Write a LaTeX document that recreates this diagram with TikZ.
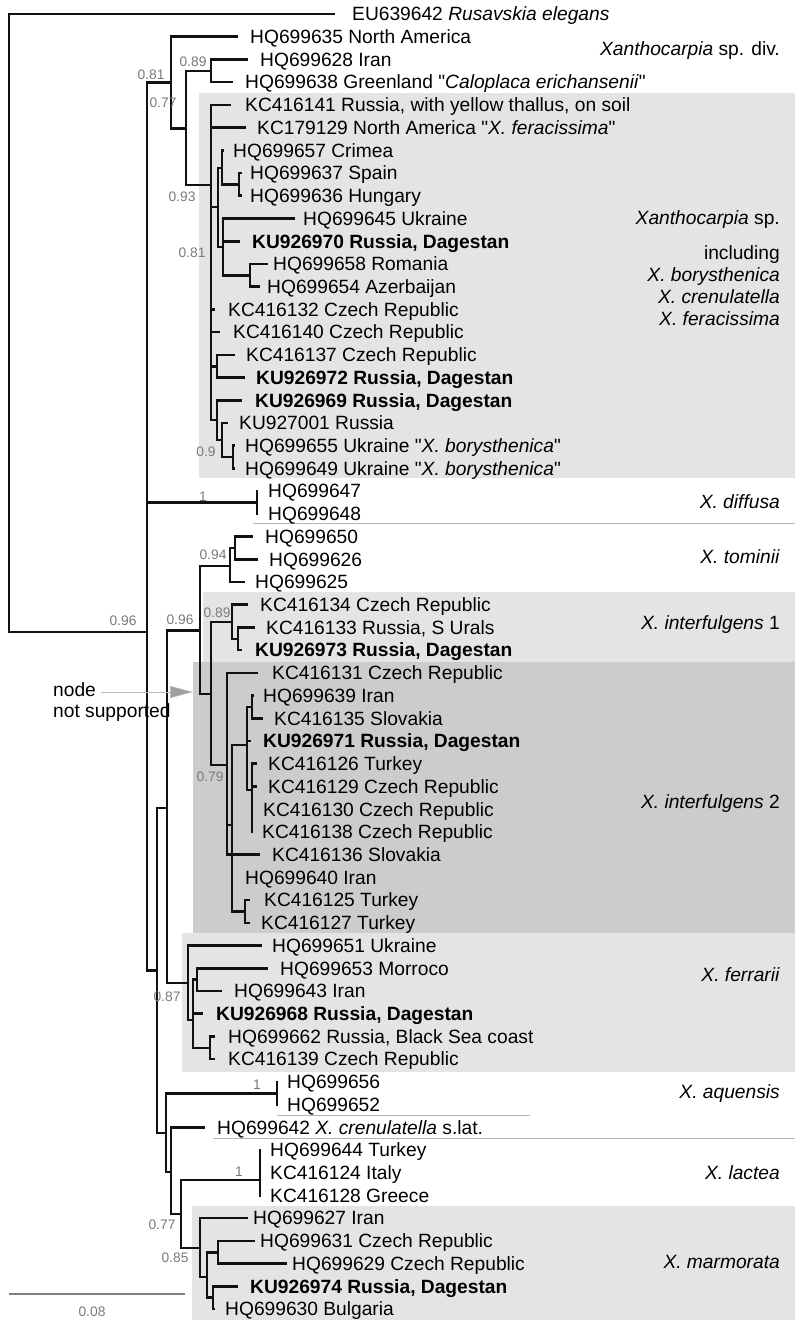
\documentclass[tikz,border=0pt]{standalone}
\usepackage{fontspec}
\setmainfont{Liberation Sans}
\usetikzlibrary{arrows.meta}
\definecolor{lg}{HTML}{E4E4E4}
\definecolor{dg}{HTML}{CCCCCC}
\definecolor{supc}{HTML}{7A7A7A}
\definecolor{brc}{HTML}{111111}
\pgfmathdeclarefunction{ry}{1}{\pgfmathparse{14+(#1-1)*22.72}}
\newcommand\q{\textquotedbl}
\tikzset{
 branch/.style={draw=brc, line width=2.6pt, line join=miter},
 leaftxt/.style={anchor=base west, inner sep=0pt, font=\fontsize{19.2}{22}\selectfont, text=black},
 cladetxt/.style={anchor=base east, inner sep=0pt, font=\fontsize{19.2}{22}\selectfont, text=black},
 supp/.style={inner sep=0pt, font=\fontsize{13.8}{15}\selectfont, text=supc},
 sepline/.style={draw=gray!60, line width=0.8pt},
}
\newcommand\leaf[4]{\coordinate (l#1) at (#2,{ry(#1)}); \node[leaftxt] (t#1) at (#3,{ry(#1)+6.8}) {#4};}
\begin{document}
\begin{tikzpicture}[x=1pt,y=-1pt]
\fill[white] (0,0) rectangle (795,1320);
\path[use as bounding box] (0,0) rectangle (795,1320);
% backgrounds
\fill[lg] (199,93) rectangle (795,478);
\fill[lg] (203,592) rectangle (795,662);
\fill[dg] (193,662) rectangle (795,933);
\fill[lg] (182,933) rectangle (795,1072);
\fill[lg] (192,1206) rectangle (795,1320);
\coordinate (sa1) at (253,523); \coordinate (sa2) at (795,523);
\coordinate (sb1) at (277,1115); \coordinate (sb2) at (530,1115);
\coordinate (sc1) at (213,1138); \coordinate (sc2) at (795,1138);
\draw[sepline] (sa1) -- (sa2);
\draw[sepline] (sb1) -- (sb2);
\draw[sepline] (sc1) -- (sc2);
% leaves
\leaf{1}{335}{352}{EU639642 \textit{Rusavskia elegans}}
\leaf{2}{238}{250}{HQ699635 North America}
\leaf{3}{248}{260}{HQ699628 Iran}
\leaf{4}{233}{245}{HQ699638 Greenland \q\textit{Caloplaca erichansenii}\q}
\leaf{5}{231}{245}{KC416141 Russia, with yellow thallus, on soil}
\leaf{6}{246}{257}{KC179129 North America \q\textit{X. feracissima}\q}
\leaf{7}{224}{233}{HQ699657 Crimea}
\leaf{8}{242}{250}{HQ699637 Spain}
\leaf{9}{242}{250}{HQ699636 Hungary}
\leaf{10}{295}{303}{HQ699645 Ukraine}
\leaf{11}{240}{252}{\textbf{KU926970 Russia, Dagestan}}
\leaf{12}{268}{273}{HQ699658 Romania}
\leaf{13}{260}{267}{HQ699654 Azerbaijan}
\leaf{14}{215}{228}{KC416132 Czech Republic}
\leaf{15}{220}{233}{KC416140 Czech Republic}
\leaf{16}{235}{246}{KC416137 Czech Republic}
\leaf{17}{245}{256}{\textbf{KU926972 Russia, Dagestan}}
\leaf{18}{242}{255}{\textbf{KU926969 Russia, Dagestan}}
\leaf{19}{228}{239}{KU927001 Russia}
\leaf{20}{235}{245}{HQ699655 Ukraine \q\textit{X. borysthenica}\q}
\leaf{21}{235}{245}{HQ699649 Ukraine \q\textit{X. borysthenica}\q}
\leaf{22}{258}{268}{HQ699647}
\leaf{23}{258}{268}{HQ699648}
\leaf{24}{253}{265}{HQ699650}
\leaf{25}{258}{269}{HQ699626}
\leaf{26}{245}{255}{HQ699625}
\leaf{27}{248}{260}{KC416134 Czech Republic}
\leaf{28}{255}{266}{KC416133 Russia, S Urals}
\leaf{29}{242}{255}{\textbf{KU926973 Russia, Dagestan}}
\leaf{30}{258}{272}{KC416131 Czech Republic}
\leaf{31}{254}{263}{HQ699639 Iran}
\leaf{32}{263}{274}{KC416135 Slovakia}
\leaf{33}{251}{263}{\textbf{KU926971 Russia, Dagestan}}
\leaf{34}{257}{268}{KC416126 Turkey}
\leaf{35}{257}{268}{KC416129 Czech Republic}
\leaf{36}{253}{263}{KC416130 Czech Republic}
\leaf{37}{253}{262}{KC416138 Czech Republic}
\leaf{38}{260}{272}{KC416136 Slovakia}
\leaf{39}{233}{245}{HQ699640 Iran}
\leaf{40}{250}{264}{KC416125 Turkey}
\leaf{41}{250}{261}{KC416127 Turkey}
\leaf{42}{262}{272}{HQ699651 Ukraine}
\leaf{43}{268}{280}{HQ699653 Morroco}
\leaf{44}{222}{234}{HQ699643 Iran}
\leaf{45}{203}{216}{\textbf{KU926968 Russia, Dagestan}}
\leaf{46}{215}{228}{HQ699662 Russia, Black Sea coast}
\leaf{47}{215}{228}{KC416139 Czech Republic}
\leaf{48}{278}{287}{HQ699656}
\leaf{49}{278}{287}{HQ699652}
\leaf{50}{205}{217}{HQ699642 \textit{X. crenulatella} s.lat.}
\leaf{51}{261}{270}{HQ699644 Turkey}
\leaf{52}{261}{270}{KC416124 Italy}
\leaf{53}{261}{270}{KC416128 Greece}
\leaf{54}{248}{253}{HQ699627 Iran}
\leaf{55}{255}{260}{HQ699631 Czech Republic}
\leaf{56}{287}{292}{HQ699629 Czech Republic}
\leaf{57}{238}{250}{\textbf{KU926974 Russia, Dagestan}}
\leaf{58}{215}{225}{HQ699630 Bulgaria}
% internal nodes
\coordinate (R) at (9,323);
\coordinate (A) at (147,632);
\coordinate (B) at (171,82.5);
\coordinate (Bc) at (186,128.5);
\coordinate (Bd) at (211,71);
\coordinate (X0) at (211,185);
\coordinate (Xb) at (218,207);
\coordinate (Xc) at (222,168);
\coordinate (Xd) at (239,184.4);
\coordinate (Xe) at (223,247);
\coordinate (Xf) at (250,275.3);
\coordinate (Xh) at (217,366.2);
\coordinate (Xi) at (217,420);
\coordinate (Xj) at (222,440);
\coordinate (Xk) at (233,457);
\coordinate (D) at (257,502.5);
\coordinate (E) at (157,970.5);
\coordinate (F) at (167,808);
\coordinate (S) at (200,630.5);
\coordinate (T) at (230,566);
\coordinate (T2) at (235,548);
\coordinate (U) at (211,694);
\coordinate (V) at (232,622);
\coordinate (V2) at (238,638.8);
\coordinate (W) at (227,765);
\coordinate (W1) at (232,825);
\coordinate (W2) at (247,745);
\coordinate (W4) at (252,707);
\coordinate (W5) at (252,790);
\coordinate (W3) at (245,911.5);
\coordinate (N) at (188,983);
\coordinate (O) at (193,1020);
\coordinate (P) at (197,979.6);
\coordinate (Q) at (210,1047.8);
\coordinate (G) at (166,1133);
\coordinate (Aq) at (277,1093.2);
\coordinate (H) at (171,1172);
\coordinate (I) at (181,1214);
\coordinate (La) at (260,1180);
\coordinate (J) at (200,1248);
\coordinate (K) at (207,1277);
\coordinate (L) at (218,1252.3);
\coordinate (M) at (213,1297.7);
% branches
\foreach \p/\c in {R/l1,R/A,A/B,A/D,A/E,B/l2,B/Bc,Bc/Bd,Bc/X0,Bd/l3,Bd/l4,
 X0/l5,X0/l6,X0/Xb,X0/l14,X0/l15,X0/Xh,X0/Xi,Xb/Xc,Xb/Xe,Xc/l7,Xc/Xd,Xd/l8,Xd/l9,
 Xe/l10,Xe/l11,Xe/Xf,Xf/l12,Xf/l13,Xh/l16,Xh/l17,Xi/l18,Xi/Xj,Xj/l19,Xj/Xk,Xk/l20,Xk/l21,
 D/l22,D/l23,E/F,E/G,F/S,F/N,S/T,S/U,T/T2,T/l26,T2/l24,T2/l25,U/V,U/W,V/l27,V/V2,V2/l28,V2/l29,
 W/l30,W/W1,W/l38,W1/W2,W1/l39,W1/W3,W2/W4,W2/l33,W2/W5,W4/l31,W4/l32,
 W5/l34,W5/l35,W5/l36,W5/l37,W3/l40,W3/l41,N/l42,N/O,O/P,O/l45,O/Q,P/l43,P/l44,Q/l46,Q/l47,
 G/Aq,G/H,Aq/l48,Aq/l49,H/l50,H/I,I/La,I/J,La/l51,La/l52,La/l53,J/l54,J/K,K/L,K/M,
 L/l55,L/l56,M/l57,M/l58}
 {\draw[branch] (\p) |- (\c);}
% support values
\node[supp] (s1) at (151,75) {0.81};
\node[supp] (s2) at (193,62) {0.89};
\node[supp] (s3) at (163,103) {0.77};
\node[supp] (s4) at (182,197) {0.93};
\node[supp] (s5) at (192,253) {0.81};
\node[supp] (s6) at (206,452) {0.9};
\node[supp] (s7) at (203,497) {1};
\node[supp] (s8) at (123,621) {0.96};
\node[supp] (s9) at (180,620) {0.96};
\node[supp] (s10) at (213,555) {0.94};
\node[supp] (s11) at (217,613) {0.89};
\node[supp] (s12) at (210,777) {0.79};
\node[supp] (s13) at (167,997) {0.87};
\node[supp] (s14) at (257,1085) {1};
\node[supp] (s15) at (239,1172) {1};
\node[supp] (s16) at (162,1225) {0.77};
\node[supp] (s17) at (175,1258) {0.85};
% clade labels
\node[cladetxt] (c1) at (780,55.8) {\textit{Xanthocarpia} sp. div.};
\node[cladetxt] (c2) at (780,224.8) {\textit{Xanthocarpia} sp.};
\node[cladetxt] (c3) at (780,259.8) {including};
\node[cladetxt] (c4) at (780,281.8) {\textit{X. borysthenica}};
\node[cladetxt] (c5) at (780,303.8) {\textit{X. crenulatella}};
\node[cladetxt] (c6) at (780,325.8) {\textit{X. feracissima}};
\node[cladetxt] (c7) at (780,508.8) {\textit{X. diffusa}};
\node[cladetxt] (c8) at (780,563.8) {\textit{X. tominii}};
\node[cladetxt] (c9) at (780,629.8) {\textit{X. interfulgens} 1};
\node[cladetxt] (c10) at (780,808.8) {\textit{X. interfulgens} 2};
\node[cladetxt] (c11) at (780,981.8) {\textit{X. ferrarii}};
\node[cladetxt] (c12) at (780,1098.8) {\textit{X. aquensis}};
\node[cladetxt] (c13) at (780,1179.8) {\textit{X. lactea}};
\node[cladetxt] (c14) at (780,1268.8) {\textit{X. marmorata}};
% node not supported
\node[leaftxt] (nnsA) at (53,696.8) {node};
\node[leaftxt] (nnsB) at (53,717.8) {not supported};
\coordinate (arrtip) at (193,692);
\draw[draw=gray!55, line width=0.6pt, -{Triangle[length=23pt,width=12pt,fill=gray!75]}, shorten <=5pt] (nnsA.east |- arrtip) -- (arrtip);
% scale bar
\coordinate (sc0) at (9,1294); \coordinate (sc9) at (185,1294);
\draw[draw=gray, line width=1.5pt] (sc0) -- (sc9);
\node[supp] (sbl) at (92,1312) {0.08};
\end{tikzpicture}
\end{document}
